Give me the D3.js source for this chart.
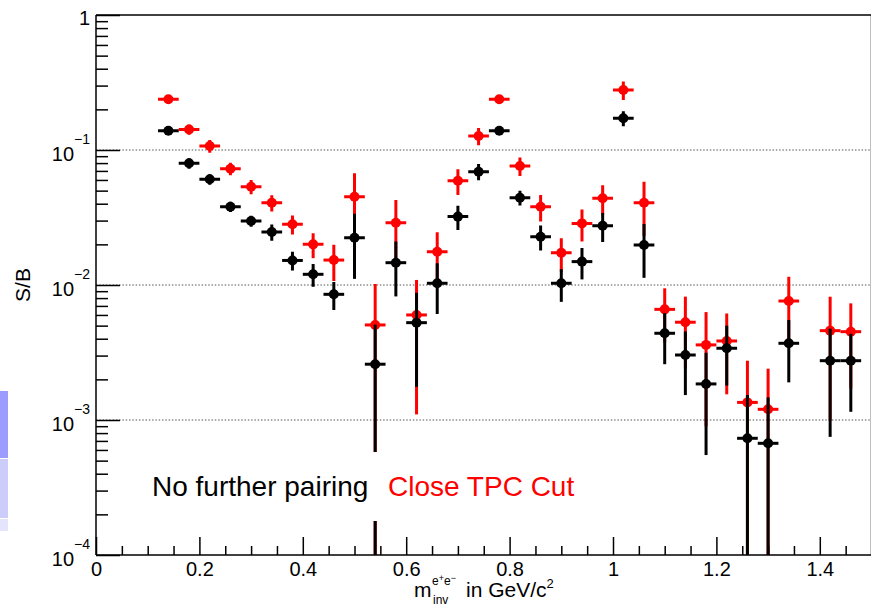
<!DOCTYPE html>
<html>
<head>
<meta charset="utf-8">
<script src="https://cdn.jsdelivr.net/npm/d3@7"></script>
<style>
  html, body { margin: 0; padding: 0; background: #fff; }
  svg { display: block; font-family: "Liberation Sans", Arial, Helvetica, sans-serif; }
</style>
</head>
<body>
<svg id="chart" width="871" height="605"></svg>
<script>
// ---- data ----
const binCenters = [0.14,0.18,0.22,0.26,0.30,0.34,0.38,0.42,0.46,0.50,0.54,0.58,0.62,0.66,0.70,0.74,0.78,0.82,0.86,0.90,0.94,0.98,1.02,1.06,1.10,1.14,1.18,1.22,1.26,1.30,1.34,1.42,1.46];
const binHalfWidth = 0.02;

const closeTpcValues = [0.2375,0.142,0.107,0.0727,0.0535,0.0407,0.0282,0.0200,0.0153,0.0451,0.00506,0.0289,0.0060,0.01765,0.0592,0.127,0.2375,0.0761,0.038,0.01735,0.0286,0.0439,0.278,0.0407,0.0066,0.0053,0.0036,0.00385,0.00135,0.0012,0.00761,0.00459,0.00451];
const closeTpcErrors = [0.018,0.0125,0.0114,0.0078,0.0064,0.0056,0.0045,0.0042,0.0046,0.0221,0.0051,0.0137,0.0049,0.0069,0.0127,0.0185,0.018,0.012,0.0084,0.0048,0.0076,0.0108,0.043,0.0175,0.00285,0.0029,0.0027,0.0023,0.0014,0.0012,0.0039,0.0036,0.0028];

const noPairingValues = [0.139,0.0797,0.0607,0.038,0.0298,0.0247,0.0152,0.0120,0.00853,0.0224,0.00259,0.01463,0.00526,0.0103,0.0321,0.0691,0.139,0.0443,0.0228,0.0103,0.0149,0.0275,0.1717,0.0198,0.00439,0.00303,0.00185,0.0034,0.000732,0.000672,0.0037,0.00275,0.00275];
const noPairingErrors = [0.0095,0.007,0.0053,0.0033,0.0028,0.0034,0.0024,0.0023,0.002,0.0113,0.0025,0.0064,0.0035,0.0042,0.0066,0.0095,0.0095,0.0055,0.0048,0.0028,0.0039,0.0067,0.0216,0.0085,0.0018,0.0015,0.0013,0.0016,0.0008,0.0008,0.0018,0.002,0.0016];

const xMajorTicks = [0,0.2,0.4,0.6,0.8,1,1.2,1.4];
const xTickLabels = ["0","0.2","0.4","0.6","0.8","1","1.2","1.4"];
const yMajorTicks = [1e-4,1e-3,1e-2,1e-1,1];
const yTickExponents = ["-4","-3","-2","-1",""];
const gridValues = [1e-3,1e-2,1e-1];
const legendLabels = ["No further pairing","Close TPC Cut"];

// ---- layout ----
const L = 96, R = 871.5, T = 15, B = 555;
const svg = d3.select("#chart");
const x = d3.scaleLinear().domain([0,1.5]).range([L,R]);
const y = d3.scaleLog().domain([1e-4,1]).range([B,T]);

// side artifacts (left edge)
svg.append("rect").attr("x",0).attr("y",391).attr("width",8).attr("height",67).attr("fill","#9c9cff");
svg.append("rect").attr("x",0).attr("y",459).attr("width",8).attr("height",59).attr("fill","#cdcdfb");
svg.append("rect").attr("x",0).attr("y",519).attr("width",8).attr("height",12).attr("fill","#e4e4fc");

svg.append("defs").append("clipPath").attr("id","plotclip")
  .append("rect").attr("x",L).attr("y",T).attr("width",R-L).attr("height",B-T);

// grid
svg.append("g").selectAll("line").data(gridValues).join("line")
  .attr("x1",L).attr("x2",R).attr("y1",d=>y(d)).attr("y2",d=>y(d))
  .attr("stroke","#555").attr("stroke-width",1.2).attr("stroke-dasharray","1.5,1.8");

// series
function drawSeries(vals, errs, color) {
  const g = svg.append("g").attr("clip-path","url(#plotclip)");
  const data = binCenters.map((c,i)=>({c, v: vals[i], e: errs[i]}));
  g.selectAll("line.v").data(data).join("line").attr("class","v")
    .attr("x1",d=>x(d.c)).attr("x2",d=>x(d.c))
    .attr("y1",d=>y(d.v+d.e))
    .attr("y2",d=> (d.v-d.e) > 1e-5 ? y(d.v-d.e) : B+10)
    .attr("stroke",color).attr("stroke-width",3);
  g.selectAll("line.h").data(data).join("line").attr("class","h")
    .attr("x1",d=>x(d.c-binHalfWidth)).attr("x2",d=>x(d.c+binHalfWidth))
    .attr("y1",d=>y(d.v)).attr("y2",d=>y(d.v))
    .attr("stroke",color).attr("stroke-width",3);
  g.selectAll("circle").data(data).join("circle")
    .attr("cx",d=>x(d.c)).attr("cy",d=>y(d.v)).attr("r",5).attr("fill",color);
}
drawSeries(closeTpcValues, closeTpcErrors, "#ff0000");
drawSeries(noPairingValues, noPairingErrors, "#000000");

// axes
const axisStyle = g => {
  g.select(".domain").remove();
  g.selectAll(".tick line").attr("stroke","#000").attr("stroke-width",1.5);
};
// x major
svg.append("g").attr("transform",`translate(0,${B})`)
  .call(d3.axisBottom(x).tickValues(xMajorTicks).tickSize(-18).tickPadding(7)
        .tickFormat((d,i)=>xTickLabels[i]))
  .call(axisStyle)
  .call(g=>g.selectAll("text").attr("font-size",20).attr("fill","#000")
        .attr("font-family",'"Liberation Sans", Arial, sans-serif'));
// x minor
const xMinor = d3.range(0,1.5001,0.05).filter(v=>Math.abs(v/0.2-Math.round(v/0.2))>1e-6);
svg.append("g").attr("transform",`translate(0,${B})`)
  .call(d3.axisBottom(x).tickValues(xMinor).tickSize(-9).tickFormat(""))
  .call(axisStyle);
// y major
svg.append("g").attr("transform",`translate(${L},0)`)
  .call(d3.axisRight(y).tickValues(yMajorTicks).tickSize(24).tickFormat(""))
  .call(axisStyle);
// y minor
const yMinor = [];
[1e-4,1e-3,1e-2,1e-1].forEach(dec=>{ for(let k=2;k<=9;k++) yMinor.push(dec*k); });
svg.append("g").attr("transform",`translate(${L},0)`)
  .call(d3.axisRight(y).tickValues(yMinor).tickSize(12).tickFormat(""))
  .call(axisStyle);

// y labels
yMajorTicks.forEach((v,i)=>{
  const yy = y(v);
  const t = svg.append("text").attr("x",90).attr("text-anchor","end").attr("font-size",20).attr("fill","#000");
  if (yTickExponents[i] === "") {
    t.attr("y",yy+10).text("1");
  } else {
    t.attr("y",yy+11);
    t.append("tspan").text("10");
    t.append("tspan").attr("font-size",14).attr("dy",-17).text("\u2212" + yTickExponents[i].slice(1));
  }
});

// frame
svg.append("line").attr("x1",L).attr("x2",L).attr("y1",T).attr("y2",B).attr("stroke","#000").attr("stroke-width",1.5);
svg.append("line").attr("x1",L).attr("x2",R).attr("y1",B).attr("y2",B).attr("stroke","#000").attr("stroke-width",1.5);
svg.append("line").attr("x1",L).attr("x2",R).attr("y1",T).attr("y2",T).attr("stroke","#000").attr("stroke-width",1.5);
svg.append("line").attr("x1",R).attr("x2",R).attr("y1",T).attr("y2",B).attr("stroke","#000").attr("stroke-width",1.5);

// axis titles
svg.append("text").attr("transform","translate(30,285) rotate(-90)").attr("text-anchor","middle")
  .attr("font-size",21).attr("fill","#000").text("S/B");

svg.append("text").attr("x",414).attr("y",597).attr("font-size",21).attr("fill","#000").text("m");
const sup = svg.append("text").attr("x",432).attr("y",585).attr("font-size",12).attr("fill","#000");
sup.append("tspan").text("e");
sup.append("tspan").attr("font-size",9).attr("dy",-4).text("+");
sup.append("tspan").attr("dy",4).text("e");
sup.append("tspan").attr("font-size",9).attr("dy",-4).text("\u2212");
svg.append("text").attr("x",433).attr("y",604).attr("font-size",12).attr("fill","#000").text("inv");
const ttl = svg.append("text").attr("x",466).attr("y",597).attr("font-size",21).attr("fill","#000");
ttl.append("tspan").text("in GeV/c");
ttl.append("tspan").attr("font-size",13).attr("dy",-9).text("2");

// legend
svg.append("rect").attr("x",140).attr("y",452).attr("width",450).attr("height",69).attr("fill","#fff");
svg.append("text").attr("x",152).attr("y",496).attr("font-size",28).attr("fill","#000").text(legendLabels[0]);
svg.append("text").attr("x",388).attr("y",496).attr("font-size",28).attr("fill","#ff0000").text(legendLabels[1]);
</script>
</body>
</html>
